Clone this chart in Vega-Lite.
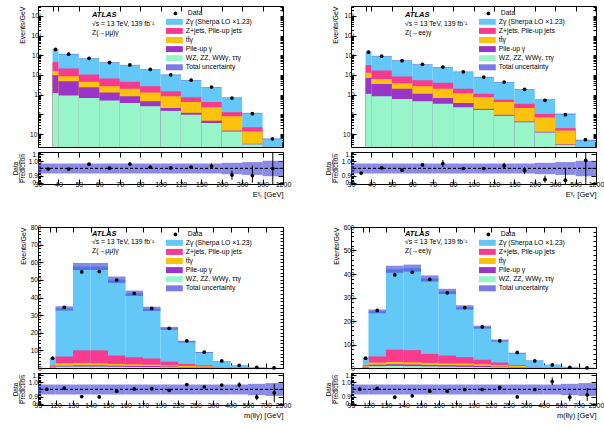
{
  "$schema": "https://vega.github.io/schema/vega-lite/v6.json",
  "padding": {"left": 12, "top": 5, "right": 5, "bottom": 5},
  "background": "white",
  "spacing": 25,
  "config": {
    "font": "Liberation Sans",
    "view": {"stroke": "black", "strokeWidth": 1},
    "axis": {"grid": false, "domain": false, "tickColor": "black", "tickSize": -5, "labelFont": "Liberation Sans", "labelFontSize": 6.5, "labelColor": "black", "titleFont": "Liberation Sans", "titleFontSize": 7, "titleFontWeight": "normal", "titleColor": "black", "labelPadding": 2},
    "legend": {"labelFont": "Liberation Sans", "labelFontSize": 6.8, "labelColor": "black", "rowPadding": 1.1, "padding": 0}
  },
  "datasets": {
    "a": [
      {"lo": 30, "hi": 40, "mid": 35, "zg": 2000, "zjets": 450, "ttg": 155, "pileup": 98, "other": 12, "data": 1992, "tlo": 1930, "thi": 2070, "ratio": 0.996, "rlo": 0.992, "rhi": 1.0, "ulo": 0.965, "uhi": 1.035},
      {"lo": 40, "hi": 50, "mid": 45, "zg": 1150, "zjets": 215, "ttg": 87, "pileup": 48, "other": 9, "data": 1145, "tlo": 1110, "thi": 1190, "ratio": 0.996, "rlo": 0.992, "rhi": 1.0, "ulo": 0.965, "uhi": 1.035},
      {"lo": 50, "hi": 60, "mid": 55, "zg": 680, "zjets": 105, "ttg": 45, "pileup": 24, "other": 6.8, "data": 700, "tlo": 656, "thi": 704, "ratio": 1.03, "rlo": 1.025, "rhi": 1.035, "ulo": 0.965, "uhi": 1.035},
      {"lo": 60, "hi": 70, "mid": 65, "zg": 430, "zjets": 66, "ttg": 27, "pileup": 13, "other": 5, "data": 431, "tlo": 415, "thi": 445, "ratio": 1.002, "rlo": 0.997, "rhi": 1.007, "ulo": 0.965, "uhi": 1.035},
      {"lo": 70, "hi": 80, "mid": 75, "zg": 316, "zjets": 45, "ttg": 20, "pileup": 8.3, "other": 3.8, "data": 325, "tlo": 305, "thi": 327, "ratio": 1.03, "rlo": 1.018, "rhi": 1.042, "ulo": 0.965, "uhi": 1.035},
      {"lo": 80, "hi": 100, "mid": 90, "zg": 190, "zjets": 27, "ttg": 13, "pileup": 4.6, "other": 2.6, "data": 192, "tlo": 183, "thi": 197, "ratio": 1.009, "rlo": 1.003, "rhi": 1.015, "ulo": 0.965, "uhi": 1.035},
      {"lo": 100, "hi": 120, "mid": 110, "zg": 102, "zjets": 15, "ttg": 8.3, "pileup": 2.1, "other": 1.5, "data": 102.4, "tlo": 98.4, "thi": 105.6, "ratio": 1.004, "rlo": 0.998, "rhi": 1.01, "ulo": 0.965, "uhi": 1.035},
      {"lo": 120, "hi": 150, "mid": 135, "zg": 54, "zjets": 7.4, "ttg": 4.3, "pileup": 1.2, "other": 0.96, "data": 54.5, "tlo": 52.1, "thi": 55.9, "ratio": 1.009, "rlo": 1.002, "rhi": 1.016, "ulo": 0.965, "uhi": 1.035},
      {"lo": 150, "hi": 200, "mid": 175, "zg": 24, "zjets": 4.3, "ttg": 2.3, "pileup": 0.48, "other": 0.36, "data": 24.4, "tlo": 23.2, "thi": 24.8, "ratio": 1.017, "rlo": 0.996, "rhi": 1.037, "ulo": 0.965, "uhi": 1.035},
      {"lo": 200, "hi": 300, "mid": 250, "zg": 7, "zjets": 1.3, "ttg": 0.8, "pileup": 0.15, "other": 0.135, "data": 6.7, "tlo": 6.72, "thi": 7.28, "ratio": 0.955, "rlo": 0.92, "rhi": 0.985, "ulo": 0.96, "uhi": 1.04},
      {"lo": 300, "hi": 500, "mid": 400, "zg": 1.15, "zjets": 0.22, "ttg": 0.135, "pileup": 0.032, "other": 0.03, "data": 1.09, "tlo": 1.098, "thi": 1.202, "ratio": 0.95, "rlo": 0.9, "rhi": 1.02, "ulo": 0.955, "uhi": 1.045},
      {"lo": 500, "hi": 1200, "mid": 850, "zg": 0.057, "zjets": 0.012, "ttg": 0.011, "pileup": 0.001, "other": 0.001, "data": 0.057, "tlo": 0.054, "thi": 0.06, "ratio": 1.0, "rlo": 0.85, "rhi": 1.2, "ulo": 0.945, "uhi": 1.055}
    ],
    "b": [
      {"lo": 30, "hi": 40, "mid": 35, "zg": 1500, "zjets": 316, "ttg": 130, "pileup": 71, "other": 11, "data": 1452, "tlo": 1448, "thi": 1552, "ratio": 0.968, "rlo": 0.964, "rhi": 0.972, "ulo": 0.965, "uhi": 1.035},
      {"lo": 40, "hi": 50, "mid": 45, "zg": 900, "zjets": 170, "ttg": 63, "pileup": 35, "other": 8.3, "data": 905, "tlo": 868, "thi": 932, "ratio": 1.005, "rlo": 1.0, "rhi": 1.01, "ulo": 0.965, "uhi": 1.035},
      {"lo": 50, "hi": 60, "mid": 55, "zg": 540, "zjets": 84, "ttg": 38, "pileup": 20, "other": 6, "data": 534, "tlo": 521, "thi": 559, "ratio": 0.988, "rlo": 0.983, "rhi": 0.993, "ulo": 0.965, "uhi": 1.035},
      {"lo": 60, "hi": 70, "mid": 65, "zg": 340, "zjets": 54, "ttg": 27, "pileup": 11, "other": 4.6, "data": 348, "tlo": 328, "thi": 352, "ratio": 1.025, "rlo": 1.02, "rhi": 1.03, "ulo": 0.965, "uhi": 1.035},
      {"lo": 70, "hi": 80, "mid": 75, "zg": 245, "zjets": 40, "ttg": 20, "pileup": 6.8, "other": 3.5, "data": 254, "tlo": 236, "thi": 254, "ratio": 1.035, "rlo": 1.01, "rhi": 1.06, "ulo": 0.965, "uhi": 1.035},
      {"lo": 80, "hi": 100, "mid": 90, "zg": 145, "zjets": 20, "ttg": 12, "pileup": 3.8, "other": 2.3, "data": 145, "tlo": 140, "thi": 150, "ratio": 1.0, "rlo": 0.995, "rhi": 1.005, "ulo": 0.965, "uhi": 1.035},
      {"lo": 100, "hi": 120, "mid": 110, "zg": 78, "zjets": 11, "ttg": 7.6, "pileup": 1.9, "other": 1.7, "data": 78, "tlo": 75.3, "thi": 80.7, "ratio": 1.0, "rlo": 0.994, "rhi": 1.006, "ulo": 0.965, "uhi": 1.035},
      {"lo": 120, "hi": 150, "mid": 135, "zg": 43, "zjets": 5.6, "ttg": 4.2, "pileup": 0.95, "other": 0.85, "data": 43.9, "tlo": 41.5, "thi": 44.5, "ratio": 1.02, "rlo": 1.0, "rhi": 1.04, "ulo": 0.965, "uhi": 1.035},
      {"lo": 150, "hi": 200, "mid": 175, "zg": 19, "zjets": 3.5, "ttg": 2.1, "pileup": 0.44, "other": 0.4, "data": 18.7, "tlo": 18.3, "thi": 19.7, "ratio": 0.985, "rlo": 0.96, "rhi": 1.01, "ulo": 0.965, "uhi": 1.035},
      {"lo": 200, "hi": 300, "mid": 250, "zg": 5.6, "zjets": 1.05, "ttg": 0.7, "pileup": 0.13, "other": 0.12, "data": 5.17, "tlo": 5.38, "thi": 5.82, "ratio": 0.923, "rlo": 0.9, "rhi": 0.95, "ulo": 0.96, "uhi": 1.04},
      {"lo": 300, "hi": 500, "mid": 400, "zg": 1.05, "zjets": 0.2, "ttg": 0.15, "pileup": 0.03, "other": 0.028, "data": 0.96, "tlo": 1.0, "thi": 1.1, "ratio": 0.918, "rlo": 0.85, "rhi": 1.0, "ulo": 0.955, "uhi": 1.045},
      {"lo": 500, "hi": 1200, "mid": 850, "zg": 0.049, "zjets": 0.01, "ttg": 0.01, "pileup": 0.001, "other": 0.001, "data": 0.052, "tlo": 0.046, "thi": 0.052, "ratio": 1.057, "rlo": 0.85, "rhi": 1.2, "ulo": 0.945, "uhi": 1.055}
    ],
    "c": [
      {"lo": 95, "hi": 120, "mid": 107.5, "zg": 56, "zjets": 14, "ttg": 8, "pileup": 5, "other": 3, "data": 56, "tlo": 54, "thi": 58, "ratio": 1.002, "rlo": 0.995, "rhi": 1.009, "ulo": 0.965, "uhi": 1.035},
      {"lo": 120, "hi": 130, "mid": 125, "zg": 338, "zjets": 65, "ttg": 27, "pileup": 13, "other": 8, "data": 344, "tlo": 326, "thi": 350, "ratio": 1.01, "rlo": 1.005, "rhi": 1.015, "ulo": 0.965, "uhi": 1.035},
      {"lo": 130, "hi": 140, "mid": 135, "zg": 576, "zjets": 100, "ttg": 29, "pileup": 15, "other": 8, "data": 545, "tlo": 556, "thi": 596, "ratio": 0.95, "rlo": 0.946, "rhi": 0.954, "ulo": 0.965, "uhi": 1.035},
      {"lo": 140, "hi": 150, "mid": 145, "zg": 576, "zjets": 100, "ttg": 27, "pileup": 15, "other": 8, "data": 547, "tlo": 556, "thi": 596, "ratio": 0.948, "rlo": 0.944, "rhi": 0.952, "ulo": 0.965, "uhi": 1.035},
      {"lo": 150, "hi": 160, "mid": 155, "zg": 501, "zjets": 71, "ttg": 23, "pileup": 13, "other": 7, "data": 499, "tlo": 483, "thi": 519, "ratio": 0.988, "rlo": 0.984, "rhi": 0.992, "ulo": 0.965, "uhi": 1.035},
      {"lo": 160, "hi": 170, "mid": 165, "zg": 424, "zjets": 61, "ttg": 21, "pileup": 12, "other": 6, "data": 424, "tlo": 409, "thi": 439, "ratio": 1.004, "rlo": 1.0, "rhi": 1.008, "ulo": 0.965, "uhi": 1.035},
      {"lo": 170, "hi": 190, "mid": 180, "zg": 336, "zjets": 54, "ttg": 19, "pileup": 11, "other": 5, "data": 338, "tlo": 324, "thi": 348, "ratio": 1.006, "rlo": 1.002, "rhi": 1.01, "ulo": 0.965, "uhi": 1.035},
      {"lo": 190, "hi": 220, "mid": 205, "zg": 225, "zjets": 36, "ttg": 15, "pileup": 9, "other": 4, "data": 225, "tlo": 217, "thi": 233, "ratio": 0.994, "rlo": 0.99, "rhi": 0.998, "ulo": 0.965, "uhi": 1.035},
      {"lo": 220, "hi": 250, "mid": 235, "zg": 150, "zjets": 23, "ttg": 12, "pileup": 6, "other": 3, "data": 154, "tlo": 145, "thi": 155, "ratio": 1.035, "rlo": 1.03, "rhi": 1.04, "ulo": 0.965, "uhi": 1.035},
      {"lo": 250, "hi": 300, "mid": 275, "zg": 88, "zjets": 15, "ttg": 9, "pileup": 4, "other": 2, "data": 90, "tlo": 85, "thi": 91, "ratio": 1.019, "rlo": 1.013, "rhi": 1.025, "ulo": 0.965, "uhi": 1.035},
      {"lo": 300, "hi": 400, "mid": 350, "zg": 38, "zjets": 6, "ttg": 4, "pileup": 1.5, "other": 0.8, "data": 40, "tlo": 36.7, "thi": 39.3, "ratio": 1.031, "rlo": 1.024, "rhi": 1.038, "ulo": 0.965, "uhi": 1.035},
      {"lo": 400, "hi": 500, "mid": 450, "zg": 16, "zjets": 2.5, "ttg": 1.5, "pileup": 0.6, "other": 0.3, "data": 15, "tlo": 15.4, "thi": 16.6, "ratio": 1.033, "rlo": 1.015, "rhi": 1.051, "ulo": 0.965, "uhi": 1.035},
      {"lo": 500, "hi": 700, "mid": 600, "zg": 4.5, "zjets": 0.8, "ttg": 0.4, "pileup": 0.15, "other": 0.1, "data": 4, "tlo": 4.3, "thi": 4.7, "ratio": 0.946, "rlo": 0.925, "rhi": 0.967, "ulo": 0.96, "uhi": 1.04},
      {"lo": 700, "hi": 2500, "mid": 1600, "zg": 1.2, "zjets": 0.2, "ttg": 0.1, "pileup": 0.05, "other": 0.02, "data": 1, "tlo": 1.15, "thi": 1.25, "ratio": 0.977, "rlo": 0.91, "rhi": 1.04, "ulo": 0.955, "uhi": 1.045}
    ],
    "d": [
      {"lo": 95, "hi": 120, "mid": 107.5, "zg": 42, "zjets": 11, "ttg": 7, "pileup": 4, "other": 2, "data": 42, "tlo": 40.5, "thi": 43.5, "ratio": 1.002, "rlo": 0.995, "rhi": 1.009, "ulo": 0.965, "uhi": 1.035},
      {"lo": 120, "hi": 130, "mid": 125, "zg": 241, "zjets": 49, "ttg": 23, "pileup": 14, "other": 8, "data": 245, "tlo": 233, "thi": 249, "ratio": 1.008, "rlo": 1.003, "rhi": 1.013, "ulo": 0.965, "uhi": 1.035},
      {"lo": 130, "hi": 140, "mid": 135, "zg": 420, "zjets": 78, "ttg": 26, "pileup": 16, "other": 9, "data": 396, "tlo": 405, "thi": 435, "ratio": 0.946, "rlo": 0.942, "rhi": 0.95, "ulo": 0.965, "uhi": 1.035},
      {"lo": 140, "hi": 150, "mid": 145, "zg": 425, "zjets": 76, "ttg": 24, "pileup": 15, "other": 8, "data": 407, "tlo": 410, "thi": 440, "ratio": 0.956, "rlo": 0.952, "rhi": 0.96, "ulo": 0.965, "uhi": 1.035},
      {"lo": 150, "hi": 160, "mid": 155, "zg": 381, "zjets": 60, "ttg": 22, "pileup": 13, "other": 7, "data": 377, "tlo": 368, "thi": 394, "ratio": 0.988, "rlo": 0.984, "rhi": 0.992, "ulo": 0.965, "uhi": 1.035},
      {"lo": 160, "hi": 170, "mid": 165, "zg": 326, "zjets": 53, "ttg": 20, "pileup": 12, "other": 6, "data": 320, "tlo": 315, "thi": 337, "ratio": 0.988, "rlo": 0.984, "rhi": 0.992, "ulo": 0.965, "uhi": 1.035},
      {"lo": 170, "hi": 190, "mid": 180, "zg": 258, "zjets": 46, "ttg": 19, "pileup": 11, "other": 5, "data": 257, "tlo": 249, "thi": 267, "ratio": 1.0, "rlo": 0.996, "rhi": 1.004, "ulo": 0.965, "uhi": 1.035},
      {"lo": 190, "hi": 220, "mid": 205, "zg": 174, "zjets": 35, "ttg": 16, "pileup": 9, "other": 4, "data": 175, "tlo": 168, "thi": 180, "ratio": 1.0, "rlo": 0.996, "rhi": 1.004, "ulo": 0.965, "uhi": 1.035},
      {"lo": 220, "hi": 250, "mid": 235, "zg": 117, "zjets": 23, "ttg": 13, "pileup": 6, "other": 3, "data": 115, "tlo": 113, "thi": 121, "ratio": 1.015, "rlo": 1.01, "rhi": 1.02, "ulo": 0.965, "uhi": 1.035},
      {"lo": 250, "hi": 300, "mid": 275, "zg": 63, "zjets": 13, "ttg": 9, "pileup": 4, "other": 2, "data": 66, "tlo": 61, "thi": 65, "ratio": 0.948, "rlo": 0.942, "rhi": 0.954, "ulo": 0.965, "uhi": 1.035},
      {"lo": 300, "hi": 400, "mid": 350, "zg": 32, "zjets": 5, "ttg": 3.5, "pileup": 1.5, "other": 0.8, "data": 30, "tlo": 31, "thi": 33, "ratio": 1.0, "rlo": 0.993, "rhi": 1.007, "ulo": 0.965, "uhi": 1.035},
      {"lo": 400, "hi": 500, "mid": 450, "zg": 14, "zjets": 2, "ttg": 1.5, "pileup": 0.5, "other": 0.3, "data": 13, "tlo": 13.5, "thi": 14.5, "ratio": 1.056, "rlo": 1.03, "rhi": 1.085, "ulo": 0.965, "uhi": 1.035},
      {"lo": 500, "hi": 700, "mid": 600, "zg": 5, "zjets": 0.7, "ttg": 0.4, "pileup": 0.15, "other": 0.1, "data": 3, "tlo": 4.8, "thi": 5.2, "ratio": 0.946, "rlo": 0.92, "rhi": 0.972, "ulo": 0.96, "uhi": 1.04},
      {"lo": 700, "hi": 2500, "mid": 1600, "zg": 1.5, "zjets": 0.2, "ttg": 0.1, "pileup": 0.05, "other": 0.02, "data": 1, "tlo": 1.43, "thi": 1.57, "ratio": 0.963, "rlo": 0.92, "rhi": 1.01, "ulo": 0.955, "uhi": 1.045}
    ]
  },
  "resolve": {"scale": {"x": "independent", "y": "independent", "color": "independent", "shape": "independent"}, "legend": {"color": "independent", "shape": "independent"}},
  "vconcat": [
    {
      "hconcat": [
        {
          "vconcat": [
            {
              "width": 245, "height": 141,
              "data": {"name": "a"},
              "title": {"text": "ATLAS", "subtitle": ["√s = 13 TeV, 139 fb⁻¹", "Z(→μμ)γ"], "anchor": "start", "frame": "group", "orient": "top", "dx": 54, "offset": -31, "fontSize": 7.5, "fontStyle": "italic", "fontWeight": "bold", "subtitleFontSize": 6.8, "subtitlePadding": 2, "subtitleLineHeight": 9, "font": "Liberation Sans", "subtitleFont": "Liberation Sans", "color": "black", "subtitleColor": "black"},
              "resolve": {"axis": {"x": "independent", "y": "independent"}},
              "layer": [
                {
                  "transform": [{"fold": ["zg", "zjets", "ttg", "pileup", "other"], "as": ["comp", "upper"]}],
                  "mark": {"type": "bar", "clip": true, "orient": "vertical"},
                  "encoding": {
                    "x": {"field": "lo", "type": "quantitative", "scale": {"domain": [30, 40, 50, 60, 70, 80, 100, 120, 150, 200, 300, 500, 1200], "range": [0, 20.417, 40.833, 61.25, 81.667, 102.083, 122.5, 142.917, 163.333, 183.75, 204.167, 224.583, 245], "nice": false, "zero": false}, "axis": {"values": [30, 40, 50, 60, 70, 80, 100, 120, 150, 200, 300, 500, 1200], "labels": false, "title": null, "orient": "bottom"}},
                    "x2": {"field": "hi"},
                    "y": {"field": "upper", "type": "quantitative", "stack": null, "scale": {"type": "log", "domain": [0.022, 320000], "nice": false}, "axis": {"orient": "left", "values": [0.1, 1, 10, 100, 1000, 10000, 100000], "labelExpr": "datum.value < 0.5 ? '10⁻¹' : datum.value < 5 ? '1' : datum.value < 50 ? '10' : datum.value < 500 ? '10²' : datum.value < 5000 ? '10³' : datum.value < 50000 ? '10⁴' : '10⁵'", "title": "Events/GeV", "titleAnchor": "end", "titlePadding": 4}},
                    "color": {"field": "comp", "type": "nominal", "scale": {"domain": ["zg", "zjets", "ttg", "pileup", "other", "unc"], "range": ["#63c7f7", "#f93a8e", "#fdc30a", "#9b35c8", "#98f5c9", "#7b7be6"]}, "legend": {"orient": "none", "legendX": 133, "legendY": 12.4, "title": null, "symbolType": "M-2.8,-1H2.8V1H-2.8Z", "symbolSize": 36, "symbolStrokeWidth": 0, "labelOffset": 8, "labelExpr": "datum.value == 'zg' ? 'Zγ (Sherpa LO ×1.23)' : datum.value == 'zjets' ? 'Z+jets, Pile-up jets' : datum.value == 'ttg' ? 'tt̄γ' : datum.value == 'pileup' ? 'Pile-up γ' : datum.value == 'other' ? 'WZ, ZZ, WWγ, ττγ' : 'Total uncertainty'"}},
                    "order": {"field": "upper", "type": "quantitative", "sort": "descending"}
                  }
                },
                {
                  "mark": {"type": "bar", "fill": "#4a4ad8", "fillOpacity": 0.65, "clip": true},
                  "encoding": {
                    "x": {"field": "lo", "type": "quantitative", "axis": {"orient": "top", "values": [30, 40, 50, 60, 70, 80, 100, 120, 150, 200, 300, 500, 1200], "labels": false, "title": null}},
                    "x2": {"field": "hi"},
                    "y": {"field": "tlo", "type": "quantitative", "axis": {"orient": "left", "values": [0.03, 0.04, 0.05, 0.06, 0.07, 0.08, 0.09, 0.2, 0.3, 0.4, 0.5, 0.6, 0.7, 0.8, 0.9, 2, 3, 4, 5, 6, 7, 8, 9, 20, 30, 40, 50, 60, 70, 80, 90, 200, 300, 400, 500, 600, 700, 800, 900, 2000, 3000, 4000, 5000, 6000, 7000, 8000, 9000, 20000, 30000, 40000, 50000, 60000, 70000, 80000, 90000, 200000, 300000], "labels": false, "title": null, "tickSize": -2.5}},
                    "y2": {"field": "thi"}
                  }
                },
                {
                  "mark": {"type": "point", "filled": true, "size": 14, "color": "black", "opacity": 1},
                  "encoding": {
                    "x": {"field": "mid", "type": "quantitative", "axis": null},
                    "y": {"field": "data", "type": "quantitative", "axis": {"orient": "right", "values": [0.03, 0.04, 0.05, 0.06, 0.07, 0.08, 0.09, 0.1, 0.2, 0.3, 0.4, 0.5, 0.6, 0.7, 0.8, 0.9, 1, 2, 3, 4, 5, 6, 7, 8, 9, 10, 20, 30, 40, 50, 60, 70, 80, 90, 100, 200, 300, 400, 500, 600, 700, 800, 900, 1000, 2000, 3000, 4000, 5000, 6000, 7000, 8000, 9000, 10000, 20000, 30000, 40000, 50000, 60000, 70000, 80000, 90000, 100000, 200000, 300000], "labels": false, "title": null, "tickSize": -3}},
                    "shape": {"datum": "Data", "scale": {"range": ["circle"]}, "legend": {"orient": "none", "legendX": 134, "legendY": 4, "title": null, "symbolSize": 14, "symbolFillColor": "black", "symbolStrokeColor": "black", "labelOffset": 9}}
                  }
                }
              ]
            },
            {
              "width": 245, "height": 32,
              "data": {"name": "a"},
              "resolve": {"axis": {"x": "independent", "y": "independent"}},
              "layer": [
                {
                  "mark": {"type": "bar", "fill": "#4a4ad8", "fillOpacity": 0.65, "clip": true},
                  "encoding": {
                    "x": {"field": "lo", "type": "quantitative", "scale": {"domain": [30, 40, 50, 60, 70, 80, 100, 120, 150, 200, 300, 500, 1200], "range": [0, 20.417, 40.833, 61.25, 81.667, 102.083, 122.5, 142.917, 163.333, 183.75, 204.167, 224.583, 245], "nice": false, "zero": false}, "axis": {"orient": "bottom", "values": [30, 40, 50, 60, 70, 80, 100, 120, 150, 200, 300, 500, 1200], "format": "d", "labelFlush": false, "labelOverlap": false, "labelFontSize": 7, "labelPadding": 1, "title": "Eᵞₜ [GeV]", "titleAnchor": "end", "titlePadding": 3, "titleFontSize": 7.5}},
                    "x2": {"field": "hi"},
                    "y": {"field": "ulo", "type": "quantitative", "scale": {"domain": [0.891, 1.116], "nice": false, "zero": false}, "axis": {"orient": "left", "values": [0.9, 0.95, 1, 1.05, 1.1], "format": "~g", "title": ["Data", "P̅r̅e̅d̅i̅c̅t̅i̅o̅n̅"], "titleLineHeight": 6.5, "titleFontSize": 6.5, "titlePadding": 3}},
                    "y2": {"field": "uhi"}
                  }
                },
                {
                  "mark": {"type": "rule", "color": "black", "strokeDash": [3, 2], "strokeWidth": 0.8},
                  "encoding": {"y": {"datum": 1, "type": "quantitative", "axis": null}}
                },
                {
                  "mark": {"type": "rule", "color": "black", "strokeWidth": 1, "clip": true},
                  "encoding": {
                    "x": {"field": "mid", "type": "quantitative", "axis": {"orient": "top", "values": [30, 40, 50, 60, 70, 80, 100, 120, 150, 200, 300, 500, 1200], "labels": false, "title": null}},
                    "y": {"field": "rlo", "type": "quantitative", "axis": {"orient": "right", "values": [0.9, 0.95, 1, 1.05, 1.1], "labels": false, "title": null}},
                    "y2": {"field": "rhi"}
                  }
                },
                {
                  "mark": {"type": "point", "filled": true, "size": 14, "color": "black", "opacity": 1, "clip": true},
                  "encoding": {
                    "x": {"field": "mid", "type": "quantitative", "axis": null},
                    "y": {"field": "ratio", "type": "quantitative", "axis": {"orient": "left", "values": [0.91, 0.92, 0.93, 0.94, 0.96, 0.97, 0.98, 0.99, 1.01, 1.02, 1.03, 1.04, 1.06, 1.07, 1.08, 1.09, 1.11], "labels": false, "title": null, "tickSize": -2.5}}
                  }
                }
              ]
            }
          ],
          "spacing": 5, "bounds": "flush",
          "resolve": {"scale": {"x": "independent", "y": "independent"}}
        },
        {
          "vconcat": [
            {
              "width": 245, "height": 141,
              "data": {"name": "b"},
              "title": {"text": "ATLAS", "subtitle": ["√s = 13 TeV, 139 fb⁻¹", "Z(→ee)γ"], "anchor": "start", "frame": "group", "orient": "top", "dx": 54, "offset": -31, "fontSize": 7.5, "fontStyle": "italic", "fontWeight": "bold", "subtitleFontSize": 6.8, "subtitlePadding": 2, "subtitleLineHeight": 9, "font": "Liberation Sans", "subtitleFont": "Liberation Sans", "color": "black", "subtitleColor": "black"},
              "resolve": {"axis": {"x": "independent", "y": "independent"}},
              "layer": [
                {
                  "transform": [{"fold": ["zg", "zjets", "ttg", "pileup", "other"], "as": ["comp", "upper"]}],
                  "mark": {"type": "bar", "clip": true, "orient": "vertical"},
                  "encoding": {
                    "x": {"field": "lo", "type": "quantitative", "scale": {"domain": [30, 40, 50, 60, 70, 80, 100, 120, 150, 200, 300, 500, 1200], "range": [0, 20.417, 40.833, 61.25, 81.667, 102.083, 122.5, 142.917, 163.333, 183.75, 204.167, 224.583, 245], "nice": false, "zero": false}, "axis": {"values": [30, 40, 50, 60, 70, 80, 100, 120, 150, 200, 300, 500, 1200], "labels": false, "title": null, "orient": "bottom"}},
                    "x2": {"field": "hi"},
                    "y": {"field": "upper", "type": "quantitative", "stack": null, "scale": {"type": "log", "domain": [0.022, 320000], "nice": false}, "axis": {"orient": "left", "values": [0.1, 1, 10, 100, 1000, 10000, 100000], "labelExpr": "datum.value < 0.5 ? '10⁻¹' : datum.value < 5 ? '1' : datum.value < 50 ? '10' : datum.value < 500 ? '10²' : datum.value < 5000 ? '10³' : datum.value < 50000 ? '10⁴' : '10⁵'", "title": "Events/GeV", "titleAnchor": "end", "titlePadding": 4}},
                    "color": {"field": "comp", "type": "nominal", "scale": {"domain": ["zg", "zjets", "ttg", "pileup", "other", "unc"], "range": ["#63c7f7", "#f93a8e", "#fdc30a", "#9b35c8", "#98f5c9", "#7b7be6"]}, "legend": {"orient": "none", "legendX": 133, "legendY": 12.4, "title": null, "symbolType": "M-2.8,-1H2.8V1H-2.8Z", "symbolSize": 36, "symbolStrokeWidth": 0, "labelOffset": 8, "labelExpr": "datum.value == 'zg' ? 'Zγ (Sherpa LO ×1.23)' : datum.value == 'zjets' ? 'Z+jets, Pile-up jets' : datum.value == 'ttg' ? 'tt̄γ' : datum.value == 'pileup' ? 'Pile-up γ' : datum.value == 'other' ? 'WZ, ZZ, WWγ, ττγ' : 'Total uncertainty'"}},
                    "order": {"field": "upper", "type": "quantitative", "sort": "descending"}
                  }
                },
                {
                  "mark": {"type": "bar", "fill": "#4a4ad8", "fillOpacity": 0.65, "clip": true},
                  "encoding": {
                    "x": {"field": "lo", "type": "quantitative", "axis": {"orient": "top", "values": [30, 40, 50, 60, 70, 80, 100, 120, 150, 200, 300, 500, 1200], "labels": false, "title": null}},
                    "x2": {"field": "hi"},
                    "y": {"field": "tlo", "type": "quantitative", "axis": {"orient": "left", "values": [0.03, 0.04, 0.05, 0.06, 0.07, 0.08, 0.09, 0.2, 0.3, 0.4, 0.5, 0.6, 0.7, 0.8, 0.9, 2, 3, 4, 5, 6, 7, 8, 9, 20, 30, 40, 50, 60, 70, 80, 90, 200, 300, 400, 500, 600, 700, 800, 900, 2000, 3000, 4000, 5000, 6000, 7000, 8000, 9000, 20000, 30000, 40000, 50000, 60000, 70000, 80000, 90000, 200000, 300000], "labels": false, "title": null, "tickSize": -2.5}},
                    "y2": {"field": "thi"}
                  }
                },
                {
                  "mark": {"type": "point", "filled": true, "size": 14, "color": "black", "opacity": 1},
                  "encoding": {
                    "x": {"field": "mid", "type": "quantitative", "axis": null},
                    "y": {"field": "data", "type": "quantitative", "axis": {"orient": "right", "values": [0.03, 0.04, 0.05, 0.06, 0.07, 0.08, 0.09, 0.1, 0.2, 0.3, 0.4, 0.5, 0.6, 0.7, 0.8, 0.9, 1, 2, 3, 4, 5, 6, 7, 8, 9, 10, 20, 30, 40, 50, 60, 70, 80, 90, 100, 200, 300, 400, 500, 600, 700, 800, 900, 1000, 2000, 3000, 4000, 5000, 6000, 7000, 8000, 9000, 10000, 20000, 30000, 40000, 50000, 60000, 70000, 80000, 90000, 100000, 200000, 300000], "labels": false, "title": null, "tickSize": -3}},
                    "shape": {"datum": "Data", "scale": {"range": ["circle"]}, "legend": {"orient": "none", "legendX": 134, "legendY": 4, "title": null, "symbolSize": 14, "symbolFillColor": "black", "symbolStrokeColor": "black", "labelOffset": 9}}
                  }
                }
              ]
            },
            {
              "width": 245, "height": 32,
              "data": {"name": "b"},
              "resolve": {"axis": {"x": "independent", "y": "independent"}},
              "layer": [
                {
                  "mark": {"type": "bar", "fill": "#4a4ad8", "fillOpacity": 0.65, "clip": true},
                  "encoding": {
                    "x": {"field": "lo", "type": "quantitative", "scale": {"domain": [30, 40, 50, 60, 70, 80, 100, 120, 150, 200, 300, 500, 1200], "range": [0, 20.417, 40.833, 61.25, 81.667, 102.083, 122.5, 142.917, 163.333, 183.75, 204.167, 224.583, 245], "nice": false, "zero": false}, "axis": {"orient": "bottom", "values": [30, 40, 50, 60, 70, 80, 100, 120, 150, 200, 300, 500, 1200], "format": "d", "labelFlush": false, "labelOverlap": false, "labelFontSize": 7, "labelPadding": 1, "title": "Eᵞₜ [GeV]", "titleAnchor": "end", "titlePadding": 3, "titleFontSize": 7.5}},
                    "x2": {"field": "hi"},
                    "y": {"field": "ulo", "type": "quantitative", "scale": {"domain": [0.891, 1.116], "nice": false, "zero": false}, "axis": {"orient": "left", "values": [0.9, 0.95, 1, 1.05, 1.1], "format": "~g", "title": ["Data", "P̅r̅e̅d̅i̅c̅t̅i̅o̅n̅"], "titleLineHeight": 6.5, "titleFontSize": 6.5, "titlePadding": 3}},
                    "y2": {"field": "uhi"}
                  }
                },
                {
                  "mark": {"type": "rule", "color": "black", "strokeDash": [3, 2], "strokeWidth": 0.8},
                  "encoding": {"y": {"datum": 1, "type": "quantitative", "axis": null}}
                },
                {
                  "mark": {"type": "rule", "color": "black", "strokeWidth": 1, "clip": true},
                  "encoding": {
                    "x": {"field": "mid", "type": "quantitative", "axis": {"orient": "top", "values": [30, 40, 50, 60, 70, 80, 100, 120, 150, 200, 300, 500, 1200], "labels": false, "title": null}},
                    "y": {"field": "rlo", "type": "quantitative", "axis": {"orient": "right", "values": [0.9, 0.95, 1, 1.05, 1.1], "labels": false, "title": null}},
                    "y2": {"field": "rhi"}
                  }
                },
                {
                  "mark": {"type": "point", "filled": true, "size": 14, "color": "black", "opacity": 1, "clip": true},
                  "encoding": {
                    "x": {"field": "mid", "type": "quantitative", "axis": null},
                    "y": {"field": "ratio", "type": "quantitative", "axis": {"orient": "left", "values": [0.91, 0.92, 0.93, 0.94, 0.96, 0.97, 0.98, 0.99, 1.01, 1.02, 1.03, 1.04, 1.06, 1.07, 1.08, 1.09, 1.11], "labels": false, "title": null, "tickSize": -2.5}}
                  }
                }
              ]
            }
          ],
          "spacing": 5, "bounds": "flush",
          "resolve": {"scale": {"x": "independent", "y": "independent"}}
        }
      ],
      "spacing": 33,
      "resolve": {"scale": {"x": "independent", "y": "independent", "color": "independent", "shape": "independent"}, "legend": {"color": "independent", "shape": "independent"}}
    },
    {
      "hconcat": [
        {
          "vconcat": [
            {
              "width": 245, "height": 141,
              "data": {"name": "c"},
              "title": {"text": "ATLAS", "subtitle": ["√s = 13 TeV, 139 fb⁻¹", "Z(→μμ)γ"], "anchor": "start", "frame": "group", "orient": "top", "dx": 54, "offset": -31, "fontSize": 7.5, "fontStyle": "italic", "fontWeight": "bold", "subtitleFontSize": 6.8, "subtitlePadding": 2, "subtitleLineHeight": 9, "font": "Liberation Sans", "subtitleFont": "Liberation Sans", "color": "black", "subtitleColor": "black"},
              "resolve": {"axis": {"x": "independent", "y": "independent"}},
              "layer": [
                {
                  "transform": [{"fold": ["zg", "zjets", "ttg", "pileup", "other"], "as": ["comp", "upper"]}],
                  "mark": {"type": "bar", "clip": true, "orient": "vertical"},
                  "encoding": {
                    "x": {"field": "lo", "type": "quantitative", "scale": {"domain": [95, 120, 130, 140, 150, 160, 170, 190, 220, 250, 300, 400, 500, 700, 2500], "range": [0, 17.5, 35, 52.5, 70, 87.5, 105, 122.5, 140, 157.5, 175, 192.5, 210, 227.5, 245], "nice": false, "zero": false}, "axis": {"values": [95, 120, 130, 140, 150, 160, 170, 190, 220, 250, 300, 400, 500, 700, 2500], "labels": false, "title": null, "orient": "bottom"}},
                    "x2": {"field": "hi"},
                    "y": {"field": "upper", "type": "quantitative", "stack": null, "scale": {"domain": [0, 800], "nice": false}, "axis": {"orient": "left", "values": [0, 100, 200, 300, 400, 500, 600, 700, 800], "format": "d", "title": "Events/GeV", "titleAnchor": "end", "titlePadding": 4}},
                    "color": {"field": "comp", "type": "nominal", "scale": {"domain": ["zg", "zjets", "ttg", "pileup", "other", "unc"], "range": ["#63c7f7", "#f93a8e", "#fdc30a", "#9b35c8", "#98f5c9", "#7b7be6"]}, "legend": {"orient": "none", "legendX": 133, "legendY": 12.4, "title": null, "symbolType": "M-2.8,-1H2.8V1H-2.8Z", "symbolSize": 36, "symbolStrokeWidth": 0, "labelOffset": 8, "labelExpr": "datum.value == 'zg' ? 'Zγ (Sherpa LO ×1.23)' : datum.value == 'zjets' ? 'Z+jets, Pile-up jets' : datum.value == 'ttg' ? 'tt̄γ' : datum.value == 'pileup' ? 'Pile-up γ' : datum.value == 'other' ? 'WZ, ZZ, WWγ, ττγ' : 'Total uncertainty'"}},
                    "order": {"field": "upper", "type": "quantitative", "sort": "descending"}
                  }
                },
                {
                  "mark": {"type": "bar", "fill": "#4a4ad8", "fillOpacity": 0.65, "clip": true},
                  "encoding": {
                    "x": {"field": "lo", "type": "quantitative", "axis": {"orient": "top", "values": [95, 120, 130, 140, 150, 160, 170, 190, 220, 250, 300, 400, 500, 700, 2500], "labels": false, "title": null}},
                    "x2": {"field": "hi"},
                    "y": {"field": "tlo", "type": "quantitative", "axis": {"orient": "left", "values": [20, 40, 60, 80, 120, 140, 160, 180, 220, 240, 260, 280, 320, 340, 360, 380, 420, 440, 460, 480, 520, 540, 560, 580, 620, 640, 660, 680, 720, 740, 760, 780], "labels": false, "title": null, "tickSize": -2.5}},
                    "y2": {"field": "thi"}
                  }
                },
                {
                  "mark": {"type": "point", "filled": true, "size": 14, "color": "black", "opacity": 1},
                  "encoding": {
                    "x": {"field": "mid", "type": "quantitative", "axis": null},
                    "y": {"field": "data", "type": "quantitative", "axis": {"orient": "right", "values": [0, 20, 40, 60, 80, 100, 120, 140, 160, 180, 200, 220, 240, 260, 280, 300, 320, 340, 360, 380, 400, 420, 440, 460, 480, 500, 520, 540, 560, 580, 600, 620, 640, 660, 680, 700, 720, 740, 760, 780, 800], "labels": false, "title": null, "tickSize": -3}},
                    "shape": {"datum": "Data", "scale": {"range": ["circle"]}, "legend": {"orient": "none", "legendX": 134, "legendY": 4, "title": null, "symbolSize": 14, "symbolFillColor": "black", "symbolStrokeColor": "black", "labelOffset": 9}}
                  }
                }
              ]
            },
            {
              "width": 245, "height": 32,
              "data": {"name": "c"},
              "resolve": {"axis": {"x": "independent", "y": "independent"}},
              "layer": [
                {
                  "mark": {"type": "bar", "fill": "#4a4ad8", "fillOpacity": 0.65, "clip": true},
                  "encoding": {
                    "x": {"field": "lo", "type": "quantitative", "scale": {"domain": [95, 120, 130, 140, 150, 160, 170, 190, 220, 250, 300, 400, 500, 700, 2500], "range": [0, 17.5, 35, 52.5, 70, 87.5, 105, 122.5, 140, 157.5, 175, 192.5, 210, 227.5, 245], "nice": false, "zero": false}, "axis": {"orient": "bottom", "values": [95, 120, 130, 140, 150, 160, 170, 190, 220, 250, 300, 400, 500, 700, 2500], "format": "d", "labelFlush": false, "labelOverlap": false, "labelFontSize": 7, "labelPadding": 1, "title": "m(llγ) [GeV]", "titleAnchor": "end", "titlePadding": 3, "titleFontSize": 7.5}},
                    "x2": {"field": "hi"},
                    "y": {"field": "ulo", "type": "quantitative", "scale": {"domain": [0.891, 1.116], "nice": false, "zero": false}, "axis": {"orient": "left", "values": [0.9, 0.95, 1, 1.05, 1.1], "format": "~g", "title": ["Data", "P̅r̅e̅d̅i̅c̅t̅i̅o̅n̅"], "titleLineHeight": 6.5, "titleFontSize": 6.5, "titlePadding": 3}},
                    "y2": {"field": "uhi"}
                  }
                },
                {
                  "mark": {"type": "rule", "color": "black", "strokeDash": [3, 2], "strokeWidth": 0.8},
                  "encoding": {"y": {"datum": 1, "type": "quantitative", "axis": null}}
                },
                {
                  "mark": {"type": "rule", "color": "black", "strokeWidth": 1, "clip": true},
                  "encoding": {
                    "x": {"field": "mid", "type": "quantitative", "axis": {"orient": "top", "values": [95, 120, 130, 140, 150, 160, 170, 190, 220, 250, 300, 400, 500, 700, 2500], "labels": false, "title": null}},
                    "y": {"field": "rlo", "type": "quantitative", "axis": {"orient": "right", "values": [0.9, 0.95, 1, 1.05, 1.1], "labels": false, "title": null}},
                    "y2": {"field": "rhi"}
                  }
                },
                {
                  "mark": {"type": "point", "filled": true, "size": 14, "color": "black", "opacity": 1, "clip": true},
                  "encoding": {
                    "x": {"field": "mid", "type": "quantitative", "axis": null},
                    "y": {"field": "ratio", "type": "quantitative", "axis": {"orient": "left", "values": [0.91, 0.92, 0.93, 0.94, 0.96, 0.97, 0.98, 0.99, 1.01, 1.02, 1.03, 1.04, 1.06, 1.07, 1.08, 1.09, 1.11], "labels": false, "title": null, "tickSize": -2.5}}
                  }
                }
              ]
            }
          ],
          "spacing": 5, "bounds": "flush",
          "resolve": {"scale": {"x": "independent", "y": "independent"}}
        },
        {
          "vconcat": [
            {
              "width": 245, "height": 141,
              "data": {"name": "d"},
              "title": {"text": "ATLAS", "subtitle": ["√s = 13 TeV, 139 fb⁻¹", "Z(→ee)γ"], "anchor": "start", "frame": "group", "orient": "top", "dx": 54, "offset": -31, "fontSize": 7.5, "fontStyle": "italic", "fontWeight": "bold", "subtitleFontSize": 6.8, "subtitlePadding": 2, "subtitleLineHeight": 9, "font": "Liberation Sans", "subtitleFont": "Liberation Sans", "color": "black", "subtitleColor": "black"},
              "resolve": {"axis": {"x": "independent", "y": "independent"}},
              "layer": [
                {
                  "transform": [{"fold": ["zg", "zjets", "ttg", "pileup", "other"], "as": ["comp", "upper"]}],
                  "mark": {"type": "bar", "clip": true, "orient": "vertical"},
                  "encoding": {
                    "x": {"field": "lo", "type": "quantitative", "scale": {"domain": [95, 120, 130, 140, 150, 160, 170, 190, 220, 250, 300, 400, 500, 700, 2500], "range": [0, 17.5, 35, 52.5, 70, 87.5, 105, 122.5, 140, 157.5, 175, 192.5, 210, 227.5, 245], "nice": false, "zero": false}, "axis": {"values": [95, 120, 130, 140, 150, 160, 170, 190, 220, 250, 300, 400, 500, 700, 2500], "labels": false, "title": null, "orient": "bottom"}},
                    "x2": {"field": "hi"},
                    "y": {"field": "upper", "type": "quantitative", "stack": null, "scale": {"domain": [0, 600], "nice": false}, "axis": {"orient": "left", "values": [0, 100, 200, 300, 400, 500, 600], "format": "d", "title": "Events/GeV", "titleAnchor": "end", "titlePadding": 4}},
                    "color": {"field": "comp", "type": "nominal", "scale": {"domain": ["zg", "zjets", "ttg", "pileup", "other", "unc"], "range": ["#63c7f7", "#f93a8e", "#fdc30a", "#9b35c8", "#98f5c9", "#7b7be6"]}, "legend": {"orient": "none", "legendX": 133, "legendY": 12.4, "title": null, "symbolType": "M-2.8,-1H2.8V1H-2.8Z", "symbolSize": 36, "symbolStrokeWidth": 0, "labelOffset": 8, "labelExpr": "datum.value == 'zg' ? 'Zγ (Sherpa LO ×1.23)' : datum.value == 'zjets' ? 'Z+jets, Pile-up jets' : datum.value == 'ttg' ? 'tt̄γ' : datum.value == 'pileup' ? 'Pile-up γ' : datum.value == 'other' ? 'WZ, ZZ, WWγ, ττγ' : 'Total uncertainty'"}},
                    "order": {"field": "upper", "type": "quantitative", "sort": "descending"}
                  }
                },
                {
                  "mark": {"type": "bar", "fill": "#4a4ad8", "fillOpacity": 0.65, "clip": true},
                  "encoding": {
                    "x": {"field": "lo", "type": "quantitative", "axis": {"orient": "top", "values": [95, 120, 130, 140, 150, 160, 170, 190, 220, 250, 300, 400, 500, 700, 2500], "labels": false, "title": null}},
                    "x2": {"field": "hi"},
                    "y": {"field": "tlo", "type": "quantitative", "axis": {"orient": "left", "values": [20, 40, 60, 80, 120, 140, 160, 180, 220, 240, 260, 280, 320, 340, 360, 380, 420, 440, 460, 480, 520, 540, 560, 580], "labels": false, "title": null, "tickSize": -2.5}},
                    "y2": {"field": "thi"}
                  }
                },
                {
                  "mark": {"type": "point", "filled": true, "size": 14, "color": "black", "opacity": 1},
                  "encoding": {
                    "x": {"field": "mid", "type": "quantitative", "axis": null},
                    "y": {"field": "data", "type": "quantitative", "axis": {"orient": "right", "values": [0, 20, 40, 60, 80, 100, 120, 140, 160, 180, 200, 220, 240, 260, 280, 300, 320, 340, 360, 380, 400, 420, 440, 460, 480, 500, 520, 540, 560, 580, 600], "labels": false, "title": null, "tickSize": -3}},
                    "shape": {"datum": "Data", "scale": {"range": ["circle"]}, "legend": {"orient": "none", "legendX": 134, "legendY": 4, "title": null, "symbolSize": 14, "symbolFillColor": "black", "symbolStrokeColor": "black", "labelOffset": 9}}
                  }
                }
              ]
            },
            {
              "width": 245, "height": 32,
              "data": {"name": "d"},
              "resolve": {"axis": {"x": "independent", "y": "independent"}},
              "layer": [
                {
                  "mark": {"type": "bar", "fill": "#4a4ad8", "fillOpacity": 0.65, "clip": true},
                  "encoding": {
                    "x": {"field": "lo", "type": "quantitative", "scale": {"domain": [95, 120, 130, 140, 150, 160, 170, 190, 220, 250, 300, 400, 500, 700, 2500], "range": [0, 17.5, 35, 52.5, 70, 87.5, 105, 122.5, 140, 157.5, 175, 192.5, 210, 227.5, 245], "nice": false, "zero": false}, "axis": {"orient": "bottom", "values": [95, 120, 130, 140, 150, 160, 170, 190, 220, 250, 300, 400, 500, 700, 2500], "format": "d", "labelFlush": false, "labelOverlap": false, "labelFontSize": 7, "labelPadding": 1, "title": "m(llγ) [GeV]", "titleAnchor": "end", "titlePadding": 3, "titleFontSize": 7.5}},
                    "x2": {"field": "hi"},
                    "y": {"field": "ulo", "type": "quantitative", "scale": {"domain": [0.891, 1.116], "nice": false, "zero": false}, "axis": {"orient": "left", "values": [0.9, 0.95, 1, 1.05, 1.1], "format": "~g", "title": ["Data", "P̅r̅e̅d̅i̅c̅t̅i̅o̅n̅"], "titleLineHeight": 6.5, "titleFontSize": 6.5, "titlePadding": 3}},
                    "y2": {"field": "uhi"}
                  }
                },
                {
                  "mark": {"type": "rule", "color": "black", "strokeDash": [3, 2], "strokeWidth": 0.8},
                  "encoding": {"y": {"datum": 1, "type": "quantitative", "axis": null}}
                },
                {
                  "mark": {"type": "rule", "color": "black", "strokeWidth": 1, "clip": true},
                  "encoding": {
                    "x": {"field": "mid", "type": "quantitative", "axis": {"orient": "top", "values": [95, 120, 130, 140, 150, 160, 170, 190, 220, 250, 300, 400, 500, 700, 2500], "labels": false, "title": null}},
                    "y": {"field": "rlo", "type": "quantitative", "axis": {"orient": "right", "values": [0.9, 0.95, 1, 1.05, 1.1], "labels": false, "title": null}},
                    "y2": {"field": "rhi"}
                  }
                },
                {
                  "mark": {"type": "point", "filled": true, "size": 14, "color": "black", "opacity": 1, "clip": true},
                  "encoding": {
                    "x": {"field": "mid", "type": "quantitative", "axis": null},
                    "y": {"field": "ratio", "type": "quantitative", "axis": {"orient": "left", "values": [0.91, 0.92, 0.93, 0.94, 0.96, 0.97, 0.98, 0.99, 1.01, 1.02, 1.03, 1.04, 1.06, 1.07, 1.08, 1.09, 1.11], "labels": false, "title": null, "tickSize": -2.5}}
                  }
                }
              ]
            }
          ],
          "spacing": 5, "bounds": "flush",
          "resolve": {"scale": {"x": "independent", "y": "independent"}}
        }
      ],
      "spacing": 33,
      "resolve": {"scale": {"x": "independent", "y": "independent", "color": "independent", "shape": "independent"}, "legend": {"color": "independent", "shape": "independent"}}
    }
  ]
}
